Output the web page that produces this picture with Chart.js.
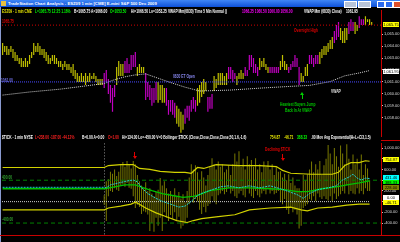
<!DOCTYPE html>
<html><head><meta charset="utf-8">
<script src="https://cdn.jsdelivr.net/npm/chart.js@4/dist/chart.umd.min.js"></script>
<style>
html,body{margin:0;padding:0;background:#000;width:400px;height:242px;overflow:hidden;font-family:"Liberation Sans",Arial,sans-serif;}
#title{position:absolute;left:0;top:0;width:400px;height:7px;background:linear-gradient(#3f86f5,#0d50d8);}
.t{position:absolute;white-space:nowrap;line-height:5px;font-size:5px;font-weight:bold;transform:scaleX(0.66);transform-origin:0 0;}
.box{position:absolute;left:383px;width:16px;height:5px;line-height:5px;font-size:4px;color:#000;text-align:center;white-space:nowrap;}
canvas{position:absolute;left:0;}
.btn{position:absolute;top:1px;height:5px;}
</style></head><body>
<div id="title">
  <div style="position:absolute;left:1px;top:1px;width:5px;height:5px;background:#e8c040;"></div>
  <div style="position:absolute;left:8px;top:1px;color:#fff;font-weight:bold;font-size:4.2px;line-height:5px;white-space:nowrap;">TradeStation Chart Analysis - ESZ09 1 min [CME] E-mini S&amp;P 500 Dec 2009</div>
  <div class="btn" style="left:344px;width:11px;background:#b8c4d8;border:0.5px solid #fff;"></div>
  <div class="btn" style="left:358px;width:11px;background:#b8c4d8;border:0.5px solid #fff;"></div>
  <div class="btn" style="left:377px;width:6px;background:#2a6af0;border:0.5px solid #fff;"></div>
  <div class="btn" style="left:385px;width:6px;background:#2a6af0;border:0.5px solid #fff;"></div>
  <div class="btn" style="left:393px;width:6px;background:#e0502a;border:0.5px solid #fff;"></div>
</div>
<div style="position:absolute;left:0;top:7px;width:1px;height:235px;background:#8a9ad0;"></div>
<canvas id="price" width="400" height="133" style="top:7px"></canvas>
<canvas id="ind" width="400" height="102" style="top:140px"></canvas>

<!-- price pane header -->
<div class="t" style="left:2px;top:9px;color:#e6e600">ESZ09 - 1 min CME</div>
<div class="t" style="left:35px;top:9px;color:#00ff00">L=1065.75 12:25 1.16%</div>
<div class="t" style="left:74px;top:9px;color:#fff">B=1065.75 A=1066.00</div>
<div class="t" style="left:110px;top:9px;color:#00ff00">O=1053.50</div>
<div class="t" style="left:131px;top:9px;color:#fff">Hi=1066.50 Lo=1053.25 VWAP Mm(6830) Time 5 Min Normal ()</div>
<div class="t" style="left:242px;top:9px;color:#ff00ff">1066.25 1060.50 1060.00 1056.00</div>
<div class="t" style="left:304px;top:9px;color:#fff">VWAP Mm (6830) Close)</div>
<div class="t" style="left:346px;top:9px;color:#fff">1061.95</div>

<!-- price annotations -->
<div class="t" style="left:2px;top:18.5px;color:#e00000">1065.75</div>
<div class="t" style="left:294px;top:27.5px;color:#e00000">Overnight High</div>
<div class="t" style="left:1px;top:77.5px;color:#7070e8">1061.00</div>
<div class="t" style="left:173px;top:73.5px;color:#8888f0">0830 ET Open</div>
<div class="t" style="left:331px;top:88.5px;color:#e0e0e0">VWAP</div>
<div style="position:absolute;left:301.5px;top:94px;width:1px;height:5px;background:#00d000;"></div>
<div style="position:absolute;left:300px;top:92px;width:0;height:0;border-left:2px solid transparent;border-right:2px solid transparent;border-bottom:3px solid #00d000;"></div>
<div class="t" style="left:280px;top:101.5px;color:#00c800">Heaviest Buyers Jump</div>
<div class="t" style="left:285px;top:108px;color:#00c800">Back In At VWAP</div>

<!-- right axis value boxes, price -->
<div class="box" style="top:21.5px;background:#ffff00">1,065.75</div>
<div class="box" style="top:68.5px;background:#ffffff">1,061.95</div>
<div style="position:absolute;left:381px;top:140px;width:19px;height:1px;background:#c80000;"></div>

<!-- indicator header -->
<div class="t" style="left:2px;top:134.5px;color:#fff">$TICK - 1 min NYSE</div>
<div class="t" style="left:35px;top:134.5px;color:#ff2020">L=238.00 -187.00 -44.12%</div>
<div class="t" style="left:82px;top:134.5px;color:#fff">B=0.00 A=0.00</div>
<div class="t" style="left:108px;top:134.5px;color:#ff2020">O=1.00</div>
<div class="t" style="left:122px;top:134.5px;color:#fff">Hi=134.00 Lo=-450.00 V=0 Bollinger $TICK (Close,Close,Close,Close,50,1.6,-1.6)</div>
<div class="t" style="left:270px;top:134.5px;color:#e6e600">754.87</div>
<div class="t" style="left:284px;top:134.5px;color:#e6e600">-46.71</div>
<div class="t" style="left:297px;top:134.5px;color:#00ff00">388.33</div>
<div class="t" style="left:311px;top:134.5px;color:#fff">.00 Mov Avg Exponential(H+L+C/3,1.5)</div>

<!-- indicator annotations -->
<div style="position:absolute;left:134px;top:152px;width:1px;height:5px;background:#e00000;"></div>
<div style="position:absolute;left:132.5px;top:156px;width:0;height:0;border-left:2px solid transparent;border-right:2px solid transparent;border-top:3px solid #e00000;"></div>
<div class="t" style="left:265px;top:147px;color:#e00000">Declining $TICK</div>
<div style="position:absolute;left:282px;top:154px;width:1px;height:5px;background:#e00000;"></div>
<div style="position:absolute;left:280.5px;top:158px;width:0;height:0;border-left:2px solid transparent;border-right:2px solid transparent;border-top:3px solid #e00000;"></div>
<div class="t" style="left:2px;top:174.5px;color:#30a030">400.00</div>
<div class="t" style="left:2px;top:216.5px;color:#30a030">-400.00</div>

<!-- right axis value boxes, indicator -->
<div class="box" style="top:156.5px;background:#ffff00">754.87</div>
<div class="box" style="top:175px;height:4.5px;background:#00ffff">431.46</div>
<div class="box" style="top:179.5px;height:4.5px;background:#00ff00">388.33</div>
<div class="box" style="top:185px;background:#808000">228.00</div>
<div class="box" style="top:194.5px;background:#ffffff">0.00</div>
<div class="box" style="top:199.5px;background:#ffff00">-46.71</div>
<div style="position:absolute;left:0;top:235px;width:400px;height:1px;background:#c80000;"></div>

<script>
// ---------- price pane data (1-min bars, minute 0 = 8:45) ----------
const firstMinute = -4;
const barHigh = [
1064.25,1064.00,1064.00,1063.75,1064.00,1063.75,1063.50,1063.25,1063.00,1063.00,
1062.75,1063.00,1062.75,1063.25,1063.50,1064.25,1064.00,1064.25,1064.00,1063.75,
1063.75,1063.50,1063.25,1063.00,1063.25,1063.25,1063.00,1062.75,1062.75,1062.50,
1062.75,1062.50,1062.50,1062.25,1062.50,1062.00,1061.75,1061.50,1061.75,1061.50,
1061.75,1061.50,1061.75,1061.50,1061.75,1061.50,1061.25,1061.25,1061.25,1061.75,
1062.00,1061.25,1060.75,1060.50,1060.75,1062.25,1062.75,1062.50,1062.50,1062.75,
1063.00,1062.50,1063.25,1063.25,1063.50,1062.25,1062.50,1062.25,1062.25,1061.75,
1061.00,1060.75,1060.50,1060.50,1061.00,1061.00,1060.75,1060.75,1060.50,1060.50,
1059.50,1059.50,1059.50,1059.25,1059.00,1058.75,1058.50,1058.25,1058.75,1059.00,
1059.00,1059.50,1059.75,1059.50,1060.50,1060.75,1061.00,1061.25,1061.00,1059.75,
1059.75,1060.00,1061.50,1061.25,1061.75,1061.75,1061.75,1061.50,1061.75,1062.25,
1062.25,1062.00,1061.75,1061.50,1061.75,1062.00,1061.75,1062.25,1062.00,1063.25,
1063.25,1063.00,1062.50,1062.25,1063.00,1062.75,1063.00,1062.50,1062.25,1062.25,
1062.25,1062.25,1062.25,1062.25,1062.75,1063.25,1062.75,1062.50,1062.25,1062.50,
1062.75,1063.25,1063.00,1062.25,1061.75,1061.50,1062.25,1062.50,1063.25,1063.25,
1063.00,1063.25,1063.25,1063.50,1063.75,1064.00,1064.00,1064.25,1064.50,1064.75,
1065.25,1065.75,1066.00,1065.50,1065.25,1065.50,1065.50,1066.00,1066.25,1066.00,
1066.00,1065.75,1066.50,1066.25,1066.25,1066.50,1066.25,1066.25,1066.00];
const barLow = [
1063.25,1063.50,1063.25,1063.25,1063.50,1063.00,1062.75,1062.75,1062.50,1062.25,
1062.25,1062.25,1062.25,1062.50,1063.00,1063.25,1063.50,1063.50,1063.25,1063.25,
1063.00,1062.75,1062.50,1062.50,1062.75,1062.50,1062.50,1062.25,1062.25,1062.00,
1062.25,1062.00,1062.00,1061.75,1061.50,1061.25,1061.00,1061.00,1061.00,1061.00,
1060.75,1061.00,1061.00,1061.25,1061.25,1061.00,1060.75,1060.75,1060.75,1060.50,
1061.00,1060.00,1059.25,1058.50,1059.75,1060.75,1061.50,1061.50,1061.50,1061.75,
1061.75,1061.75,1062.00,1062.25,1062.25,1061.50,1061.75,1061.75,1061.75,1059.50,
1059.75,1059.50,1059.00,1059.25,1059.50,1059.25,1059.50,1059.25,1059.25,1059.00,
1058.25,1058.50,1058.25,1058.00,1057.50,1057.25,1056.75,1057.00,1057.50,1058.00,
1057.75,1058.50,1058.75,1058.50,1059.00,1059.25,1059.75,1060.00,1060.25,1058.50,
1058.75,1058.75,1060.25,1060.50,1060.75,1060.75,1060.75,1060.75,1060.75,1061.25,
1061.25,1061.00,1061.25,1060.75,1061.25,1061.25,1061.25,1061.50,1061.50,1062.00,
1062.25,1061.75,1061.75,1061.50,1062.00,1062.25,1062.25,1062.00,1061.75,1061.75,
1061.75,1061.75,1061.75,1061.75,1062.00,1062.25,1062.00,1062.00,1061.75,1062.00,
1062.25,1062.25,1062.25,1060.75,1061.00,1061.00,1061.50,1061.50,1062.50,1062.50,
1062.25,1062.50,1062.50,1062.50,1063.00,1063.25,1063.25,1063.50,1063.75,1063.75,
1064.25,1064.50,1064.75,1064.50,1064.25,1064.25,1064.50,1065.00,1065.25,1065.25,
1065.00,1065.25,1065.50,1065.75,1065.75,1065.75,1066.00,1065.75,1065.75];
// paint bar colour per bar: Y = yellow, M = magenta
const barPaint = ["YYYYYYYYYY","YYYYYYYYYY","YYYYYYYYYY","YYYYYYYYYY","YYYYYYYYY",
  "MMMMMM","YYYY","MMMMMM","YYYY","MMMMMM","YYYY","MMMMM","YYYY","MMMMMM","YYYYY","MMM",
  "YYYYYYY","MMMM","YYYY","MMMMMMM","YYYYY","MMMMM","YYYY","MMMMMM","YYYY","MMMMM",
  "YYYYYYY","MMM","YYYY","MMM","YY","MMM","YYYY"].join('');
const vwapMinutes = [-4,9,24,38,45,50,55,60,65,69,77,84,91,106,120,135,144,154,161,168,173];
const vwapValues = [1059.90,1060.16,1060.40,1060.71,1060.87,1061.19,1061.43,1061.59,1061.67,1061.43,
  1060.95,1060.56,1060.24,1060.32,1060.48,1060.63,1060.71,1061.03,1061.51,1061.75,1061.95];
const overnightHigh = 1065.75;
const openPrice = 1061.00;
const priceTicks = [1058,1059,1060,1061,1062,1063,1064,1065];

// ---------- $TICK pane data ----------
const sessionOpenMinute = 45;
const tickFirstMinute = 45;
const tickHigh = [120,380,420,560,520,600,480,560,700,740,
 650,760,700,620,760,700,500,380,300,250,
 360,200,250,150,100,180,220,440,300,380,
 250,150,200,120,250,100,180,60,140,0,
 200,450,700,600,680,550,400,570,450,300,
 500,650,810,700,600,750,650,700,550,600,
 680,500,700,900,750,940,650,800,600,850,
 700,780,650,810,600,700,550,750,650,760,
 600,700,500,650,560,570,450,520,400,510,
 350,450,300,250,250,200,500,400,510,600,
 750,550,700,600,760,500,680,800,1060,900,
 700,1000,850,650,1050,900,700,1070,800,600,
 880,700,800,600,880,500,700,620,400];
const tickLow = [-60,-360,100,200,180,250,220,200,300,320,
 280,350,260,240,100,-120,-60,-100,-230,-180,
 -200,-240,-550,-400,-560,-300,-450,-300,-550,-200,
 -300,-360,-250,-320,-200,-360,-280,-500,-450,-400,
 -300,-50,100,-20,50,0,-150,-230,-100,-200,
 -80,-40,100,0,-50,120,150,200,140,180,
 250,150,200,100,70,150,200,120,80,250,
 150,100,70,200,120,80,150,200,140,250,
 150,200,140,160,200,0,-50,50,-150,-230,
 -100,-200,-150,-240,-500,-450,-120,-80,-50,50,
 20,100,10,150,80,50,100,50,20,100,
 10,150,50,100,140,200,150,300,140,200,
 150,140,250,150,200,140,250,200,200];
const upperMinutes = [-4,45,47,53,59,62,67,72,79,84,87,90,93,99,110,120,128,131,135,145,155,158,161,164,168,171,173];
const upperBand = [638,638,674,692,692,620,602,566,548,548,530,638,620,692,674,674,656,584,530,512,512,548,674,728,728,764,755];
const lowerMinutes = [-4,45,47,53,58,60,62,65,70,75,80,85,88,92,100,108,115,125,135,140,143,148,155,162,168,173];
const lowerBand = [-155,-155,-119,-83,-47,-11,-47,-119,-209,-281,-353,-389,-353,-317,-281,-245,-155,-119,-101,-155,-173,-119,-101,-65,-47,-47];
const maMinutes = [-4,45,50,55,60,64,68,73,78,83,88,91,96,105,115,125,132,138,143,150,157,162,168,173];
const maValues = [241,241,277,314,314,259,205,151,115,79,97,133,205,259,259,241,223,187,187,241,277,314,350,388];
const emaMinutes = [-4,45,46,48,52,56,59,61,63,66,70,73,77,81,84,87,90,93,97,101,105,110,115,120,125,130,134,138,141,144,148,153,157,160,163,165,167,169,171,173];
const emaValues = [268,268,259,314,350,386,404,368,259,151,61,7,-47,-101,-83,7,115,169,223,277,295,259,295,259,295,241,187,133,61,151,223,259,295,404,458,512,440,404,440,431];
const tickBandLevel = 400;
const zeroLevel = 0;
const zeroLineEnd = 173;
const indicatorTicks = [1000,800,600,400,200,0,-200,-400];

// ---------- time axis ----------
const timeTicks = [0,15,30,45,60,75,90,105,120,135,150,165];
const timeLabels = ['8:45','9:00','9:15','9:30','9:45','10:00','10:15','10:30','10:45','11:00','11:15','11:30'];

// ---------- chart setup ----------
Chart.defaults.font.family = "'Liberation Sans', Arial, sans-serif";
Chart.defaults.font.size = 4;
Chart.defaults.color = '#d8d8d8';
const X_MIN = -4.3, X_MAX = 178.5;
const fmt = v => Number(v).toLocaleString('en-US',{minimumFractionDigits:2,maximumFractionDigits:2});
const pts = (xs, ys) => xs.map((m,i)=>({x:m,y:ys[i]}));
function rightAxis(min, max, ticks){
  return {
    position:'right', min, max,
    afterFit(s){ s.width = 19; },
    afterBuildTicks(s){ s.ticks = ticks.map(v=>({value:v})); },
    ticks:{ callback:v=>fmt(v), color:'#d8d8d8', padding:1, font:{size:4} },
    grid:{ drawOnChartArea:false, tickLength:2, color:'#c8c8c8' },
    border:{ color:'#c80000', width:1 }
  };
}
const baseOpts = {
  responsive:false, animation:false, devicePixelRatio:1,
  layout:{ padding:{left:2,right:0,top:0,bottom:0}, autoPadding:false },
  plugins:{ legend:{display:false}, tooltip:{enabled:false} }
};

new Chart(document.getElementById('price'), {
  type:'bar',
  data:{ datasets:[
    {type:'line', data:[{x:X_MIN,y:overnightHigh},{x:X_MAX,y:overnightHigh}], borderColor:'#d40000', borderWidth:1, borderDash:[1,2], pointRadius:0},
    {type:'line', data:[{x:X_MIN,y:openPrice},{x:X_MAX,y:openPrice}], borderColor:'#4a4aff', borderWidth:1, borderDash:[1,1], pointRadius:0},
    {type:'line', data:pts(vwapMinutes, vwapValues), borderColor:'#d0d0d0', borderWidth:1, borderDash:[1,1], pointRadius:0},
    {type:'bar', data:barHigh.map((h,i)=>({x:firstMinute+i, y:[barLow[i],h]})),
      backgroundColor:ctx=>barPaint[ctx.dataIndex]==='M'?'#c000c0':'#c0c000', barThickness:1.2, inflateAmount:0}
  ]},
  options:Object.assign({}, baseOpts, {
    scales:{
      x:{type:'linear', min:X_MIN, max:X_MAX, display:false, offset:false},
      y:rightAxis(1056.43, 1066.98, priceTicks)
    }
  })
});

const sessionLine = {
  id:'sessionLine',
  beforeDatasetsDraw(chart){
    const {ctx, chartArea:a, scales:{x}} = chart;
    const px = Math.round(x.getPixelForValue(sessionOpenMinute)) + 0.5;
    ctx.save(); ctx.strokeStyle='#909090'; ctx.lineWidth=1; ctx.setLineDash([1,2]);
    ctx.beginPath(); ctx.moveTo(px,a.top); ctx.lineTo(px,a.bottom); ctx.stroke(); ctx.restore();
  }
};

new Chart(document.getElementById('ind'), {
  type:'bar',
  data:{ datasets:[
    {type:'line', data:pts(upperMinutes, upperBand), borderColor:'#d2d200', borderWidth:1.2, pointRadius:0},
    {type:'line', data:pts(lowerMinutes, lowerBand), borderColor:'#d2d200', borderWidth:1.2, pointRadius:0},
    {type:'line', data:pts(emaMinutes, emaValues), borderColor:'#20d0d0', borderWidth:1, borderDash:[2,1], pointRadius:0},
    {type:'line', data:pts(maMinutes, maValues), borderColor:'#00c000', borderWidth:1.3, pointRadius:0},
    {type:'line', data:[{x:X_MIN,y:zeroLevel},{x:zeroLineEnd,y:zeroLevel}], borderColor:'#d0d0d0', borderWidth:1, borderDash:[1,1], pointRadius:0},
    {type:'line', data:[{x:X_MIN,y:tickBandLevel},{x:X_MAX,y:tickBandLevel}], borderColor:'#008000', borderWidth:1, borderDash:[4,3], pointRadius:0},
    {type:'line', data:[{x:X_MIN,y:-tickBandLevel},{x:X_MAX,y:-tickBandLevel}], borderColor:'#008000', borderWidth:1, borderDash:[4,3], pointRadius:0},
    {type:'bar', data:tickHigh.map((h,i)=>({x:tickFirstMinute+i, y:[tickLow[i],h]})), backgroundColor:'#7a7a00', barThickness:1, inflateAmount:0}
  ]},
  options:Object.assign({}, baseOpts, {
    scales:{
      x:{type:'linear', min:X_MIN, max:X_MAX, offset:false,
         afterFit(s){ s.height = 7; },
         afterBuildTicks(s){ s.ticks = timeTicks.map(v=>({value:v})); },
         ticks:{ callback:(v)=>timeLabels[timeTicks.indexOf(v)], color:'#e0e0e0', padding:1, maxRotation:0, autoSkip:false, font:{size:4} },
         grid:{ display:false }, border:{ color:'#c80000', width:1 } },
      y:rightAxis(-623, 1088, indicatorTicks)
    }
  }),
  plugins:[sessionLine]
});
</script>
</body></html>
